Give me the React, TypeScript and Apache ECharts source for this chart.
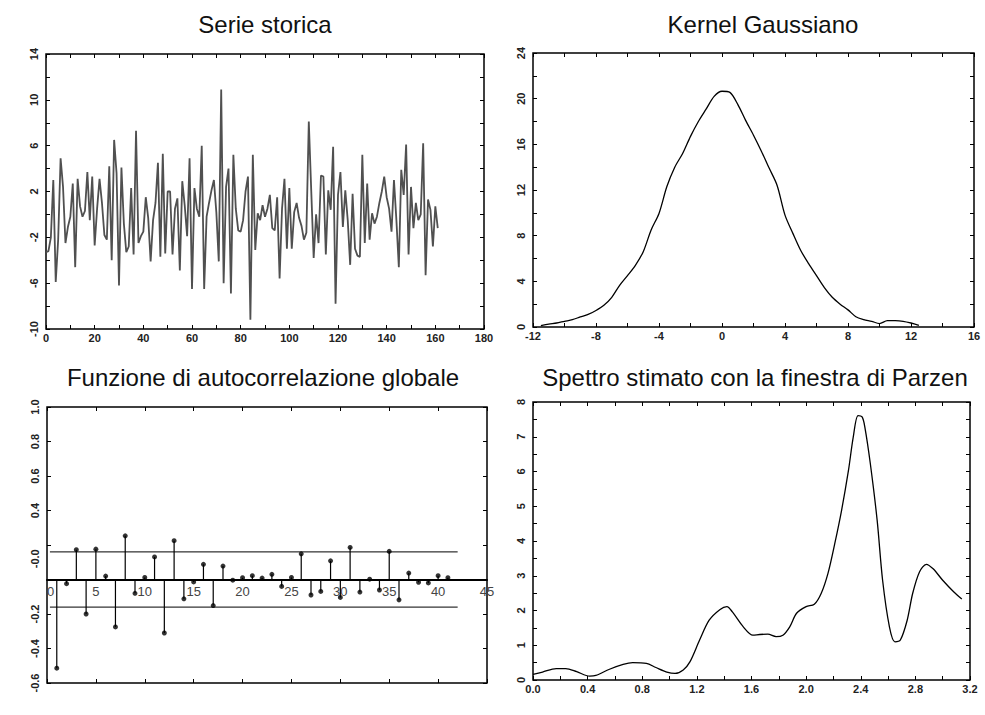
import React, { useEffect, useRef } from "react";
import * as echarts from "echarts";

// Serie storica: one observation per time step, t = 0..161
const serieValues = [
  -3.3, -3.2, -2.0, 3.0, -5.9, -2.2, 4.9, 2.4, -2.5, -1.1,
  -0.2, 2.7, -4.6, 3.1, 0.7, -0.2, 0.3, 3.7, -0.5, 3.3,
  -2.7, 0.5, 3.1, 1.0, -1.8, -2.2, 4.2, -4.0, 6.5, 3.6,
  -6.2, 4.1, -0.8, -3.3, -2.8, 2.3, -3.5, 7.3, -2.5, -1.9,
  -1.5, 1.5, -0.3, -4.1, -0.5, 1.0, 4.5, -3.7, 5.3, -3.4,
  2.0, 2.0, -3.5, 0.5, 1.4, -4.9, 2.9, 0.8, -1.9, 4.9,
  -6.5, 2.3, 0.5, -0.2, 6.0, -6.5, -0.2, 1.0, 2.1, 3.0,
  0.2, -4.1, 10.9, -6.0, 2.4, 4.0, -6.9, 5.2, 0.5, -1.4,
  -1.5, -0.5, 2.0, 3.3, -9.2, 5.2, -3.1, 0.1, -0.5, 0.8,
  -0.2, 0.5, 1.7, -1.2, -1.4, 1.5, -5.6, 0.5, 3.1, -3.0,
  2.3, -3.0, 0.2, 1.0, -0.3, -1.0, -2.2, -1.6, 8.1, 2.1,
  -3.8, 0.0, -2.5, 3.4, 3.3, -3.5, 2.1, 0.4, 5.9, -7.8,
  1.7, 3.7, -1.1, 2.1, -0.5, -4.4, 1.8, -3.0, -3.6, -3.7,
  5.2, -2.5, 2.7, -2.2, 0.1, -0.8, -0.2, 1.0, 2.0, 3.3,
  1.5, 0.5, -1.5, 3.0, -0.5, -4.6, 3.9, 1.7, 6.1, -3.5,
  2.4, -1.2, 1.0, -0.5, 0.0, 6.2, -5.3, 1.3, 0.4, -2.8,
  0.7, -1.2,
];

// Kernel Gaussiano: density estimate
const kernelX = [
  -11.5, -11, -10.5, -10, -9.5, -9, -8.5, -8, -7.5, -7, -6.5, -6, -5.5, -5,
  -4.5, -4, -3.5, -3, -2.5, -2, -1.5, -1, -0.5, 0, 0.5, 1, 1.5, 2, 2.5, 3,
  3.5, 4, 4.5, 5, 5.5, 6, 6.5, 7, 7.5, 8, 8.5, 9, 9.5, 10, 10.5, 11, 11.5,
  12, 12.5,
];
const kernelY = [
  0.12, 0.25, 0.35, 0.5, 0.64, 0.88, 1.1, 1.45, 1.9, 2.6, 3.65, 4.5, 5.4, 6.6,
  8.5, 9.95, 12.3, 14.0, 15.2, 16.7, 18.0, 19.1, 20.2, 20.65, 20.55, 19.5,
  18.1, 16.8, 15.4, 13.9, 12.4, 9.8, 8.2, 6.7, 5.55, 4.5, 3.45, 2.6, 2.0,
  1.5, 0.9, 0.65, 0.5, 0.3, 0.55, 0.55, 0.5, 0.35, 0.15,
];

// Funzione di autocorrelazione globale: lags 1..41
const acfValues = [
  -0.514, -0.024, 0.173, -0.2, 0.176, 0.02, -0.275, 0.253, -0.08, 0.012,
  0.131, -0.31, 0.225, -0.112, -0.014, 0.088, -0.151, 0.078, -0.004, 0.01,
  0.022, 0.008, 0.03, -0.04, 0.012, 0.149, -0.09, -0.069, 0.108, -0.104,
  0.186, -0.073, 0.002, -0.061, 0.163, -0.118, 0.037, -0.016, -0.02, 0.022,
  0.01,
];
const acfBand = 0.16;
const acfBandRange = [0.3, 42];
const acfYRange = [-0.6, 1.0];
const acfTickValues = [-0.6, -0.4, -0.2, 0.12, 0.4, 0.6, 0.8, 1.0];
const acfTickLabels = ["-0.6", "-0.4", "-0.2", "-0.0", "0.4", "0.6", "0.8", "1.0"];

// Spettro stimato con la finestra di Parzen
const spectrumX = [
  0.0, 0.07, 0.17, 0.24, 0.32, 0.415, 0.46, 0.56, 0.66, 0.73, 0.83, 0.9, 0.98,
  1.04, 1.1, 1.15, 1.22, 1.29, 1.37, 1.42, 1.46, 1.54, 1.61, 1.66, 1.72, 1.78,
  1.83, 1.88, 1.93, 2.0, 2.06, 2.11, 2.16, 2.21, 2.26, 2.31, 2.345, 2.38, 2.41,
  2.43, 2.47, 2.52, 2.56, 2.61, 2.65, 2.69, 2.74, 2.78, 2.83, 2.88, 2.93, 3.0,
  3.08, 3.14,
];
const spectrumY = [
  0.16, 0.23, 0.33, 0.33, 0.24, 0.11, 0.13, 0.31, 0.45, 0.5, 0.48, 0.36, 0.23,
  0.19, 0.29, 0.53, 1.15, 1.72, 2.03, 2.11, 1.96, 1.53, 1.29, 1.31, 1.32, 1.25,
  1.29, 1.53, 1.92, 2.11, 2.18, 2.49, 3.07, 3.93, 4.89, 6.03, 6.99, 7.61, 7.57,
  7.28, 6.23, 4.6, 2.87, 1.53, 1.1, 1.15, 1.72, 2.49, 3.11, 3.33, 3.2, 2.87,
  2.54, 2.33,
];

const titles = [
  "Serie storica",
  "Kernel Gaussiano",
  "Funzione di autocorrelazione globale",
  "Spettro stimato con la finestra di Parzen",
];
const titleX = [265, 763, 263, 755];
const titleY = [24, 24, 377, 377];

const TICK_FONT = "'Liberation Sans', Arial, sans-serif";
const TITLE_FONT = "'Liberation Sans', Arial, sans-serif";

const grids = [
  { left: 46, top: 54, width: 438, height: 275 },
  { left: 533, top: 53, width: 441, height: 274 },
  { left: 47, top: 407, width: 440, height: 276 },
  { left: 533, top: 402, width: 437, height: 278 },
];

const near = (v: number, step: number, base: number) =>
  Math.abs((v - base) / step - Math.round((v - base) / step)) < 1e-6;

function labelStyle(extra: any = {}) {
  return {
    fontFamily: TICK_FONT,
    fontSize: 11,
    fontWeight: "bold",
    color: "#222",
    ...extra,
  };
}

function tickOnlyAxis(gridIndex: number, position: string, min: number, max: number, interval: number) {
  return {
    type: "value",
    gridIndex,
    position,
    min,
    max,
    interval,
    axisLine: { show: false, onZero: false },
    axisTick: { show: true, inside: true, length: 4, lineStyle: { color: "#000", width: 1 } },
    axisLabel: { show: false },
    splitLine: { show: false },
  };
}

export default function App() {
  const ref = useRef<HTMLDivElement>(null);

  useEffect(() => {
    if (!ref.current) return;
    const chart = echarts.init(ref.current, null, { renderer: "svg" });

    const xAxis: any[] = [];
    const yAxis: any[] = [];

    // Panel 0: time series
    xAxis.push({
      ...tickOnlyAxis(0, "bottom", 0, 180, 10),
      axisLabel: {
        show: true,
        margin: 3,
        ...labelStyle(),
        formatter: (v: number) => (near(v, 20, 0) ? String(v) : ""),
      },
    });
    xAxis.push(tickOnlyAxis(0, "top", 0, 180, 10));
    yAxis.push({
      ...tickOnlyAxis(0, "left", -10, 14, 2),
      axisLabel: {
        show: true,
        rotate: 90,
        margin: 7,
        ...labelStyle(),
        formatter: (v: number) => (near(v, 4, -10) ? String(v) : ""),
      },
    });
    yAxis.push(tickOnlyAxis(0, "right", -10, 14, 2));

    // Panel 1: kernel density
    xAxis.push({
      ...tickOnlyAxis(1, "bottom", -12, 16, 2),
      axisLabel: {
        show: true,
        margin: 3,
        ...labelStyle(),
        formatter: (v: number) => (near(v, 4, 0) ? String(v) : ""),
      },
    });
    xAxis.push(tickOnlyAxis(1, "top", -12, 16, 2));
    yAxis.push({
      ...tickOnlyAxis(1, "left", 0, 24, 2),
      axisLabel: {
        show: true,
        rotate: 90,
        margin: 7,
        ...labelStyle(),
        formatter: (v: number) => (near(v, 4, 0) ? String(v) : ""),
      },
    });
    yAxis.push(tickOnlyAxis(1, "right", 0, 24, 2));

    // Panel 2: autocorrelation; the lag labels sit on the zero line,
    // so that axis is lifted from the bottom edge up to y = 0
    const g2 = grids[2];
    const zeroLift = (g2.height * (0 - acfYRange[0])) / (acfYRange[1] - acfYRange[0]);
    xAxis.push({
      type: "value",
      gridIndex: 2,
      position: "bottom",
      offset: -zeroLift,
      min: 0,
      max: 45,
      interval: 5,
      axisLine: { show: true, onZero: false, lineStyle: { color: "#000", width: 2 } },
      axisTick: { show: false },
      axisLabel: {
        show: true,
        margin: 5,
        fontFamily: TICK_FONT,
        fontSize: 13,
        color: "#444",
        alignMinLabel: "left",
      },
      splitLine: { show: false },
    });
    xAxis.push(tickOnlyAxis(2, "bottom", 0, 45, 5));
    xAxis.push(tickOnlyAxis(2, "top", 0, 45, 5));
    yAxis.push({
      ...tickOnlyAxis(2, "left", acfYRange[0], acfYRange[1], 0.2),
      axisLabel: {
        show: true,
        rotate: 90,
        margin: 7,
        ...labelStyle(),
        customValues: acfTickValues,
        formatter: (v: number) => {
          const i = acfTickValues.findIndex((t) => Math.abs(t - v) < 1e-6);
          return i >= 0 ? acfTickLabels[i] : "";
        },
      },
    });
    yAxis.push(tickOnlyAxis(2, "right", acfYRange[0], acfYRange[1], 0.2));

    // Panel 3: Parzen spectrum
    xAxis.push({
      ...tickOnlyAxis(3, "bottom", 0, 3.2, 0.2),
      axisLabel: {
        show: true,
        margin: 3,
        ...labelStyle(),
        formatter: (v: number) => (near(v, 0.4, 0) ? v.toFixed(1) : ""),
      },
    });
    xAxis.push(tickOnlyAxis(3, "top", 0, 3.2, 0.2));
    yAxis.push({
      ...tickOnlyAxis(3, "left", 0, 8, 0.5),
      axisLabel: {
        show: true,
        rotate: 90,
        margin: 7,
        ...labelStyle(),
        formatter: (v: number) => (near(v, 1, 0) ? String(v) : ""),
      },
    });
    yAxis.push(tickOnlyAxis(3, "right", 0, 8, 0.5));

    const acfData = acfValues.map((v, i) => [i + 1, v]);

    const option: any = {
      animation: false,
      backgroundColor: "#fff",
      grid: grids.map((g) => ({
        ...g,
        show: true,
        borderColor: "#000",
        borderWidth: 1.5,
        backgroundColor: "transparent",
        containLabel: false,
      })),
      xAxis,
      yAxis,
      graphic: titles.map((t, i) => ({
        type: "text",
        x: titleX[i],
        y: titleY[i],
        style: {
          text: t,
          font: `24px ${TITLE_FONT}`,
          fill: "#111",
          align: "center",
          verticalAlign: "middle",
        },
      })),
      series: [
        {
          type: "line",
          xAxisIndex: 0,
          yAxisIndex: 0,
          data: serieValues.map((v, i) => [i, v]),
          symbol: "none",
          lineStyle: { color: "#505050", width: 1.8 },
        },
        {
          type: "line",
          xAxisIndex: 2,
          yAxisIndex: 2,
          data: kernelX.map((x, i) => [x, kernelY[i]]),
          symbol: "none",
          smooth: 0.3,
          lineStyle: { color: "#000", width: 1.3 },
        },
        {
          type: "bar",
          xAxisIndex: 4,
          yAxisIndex: 4,
          data: acfData,
          barWidth: 1.2,
          itemStyle: { color: "#000" },
        },
        {
          type: "scatter",
          xAxisIndex: 4,
          yAxisIndex: 4,
          data: acfData,
          symbol: "circle",
          symbolSize: 5,
          itemStyle: { color: "#000" },
        },
        {
          type: "line",
          xAxisIndex: 4,
          yAxisIndex: 4,
          data: acfBandRange.map((x) => [x, acfBand]),
          symbol: "none",
          lineStyle: { color: "#000", width: 1 },
        },
        {
          type: "line",
          xAxisIndex: 4,
          yAxisIndex: 4,
          data: acfBandRange.map((x) => [x, -acfBand]),
          symbol: "none",
          lineStyle: { color: "#000", width: 1 },
        },
        {
          type: "line",
          xAxisIndex: 7,
          yAxisIndex: 6,
          data: spectrumX.map((x, i) => [x, spectrumY[i]]),
          symbol: "none",
          smooth: 0.3,
          lineStyle: { color: "#000", width: 1.3 },
        },
      ],
    };

    chart.setOption(option);
    return () => chart.dispose();
  }, []);

  return (
    <div
      ref={ref}
      style={{ position: "absolute", left: 0, top: 0, width: 985, height: 715, background: "#fff" }}
    />
  );
}
